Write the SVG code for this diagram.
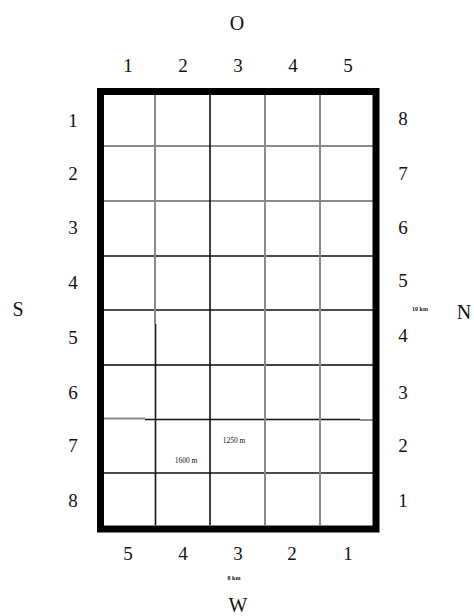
<svg xmlns="http://www.w3.org/2000/svg" width="474" height="616" viewBox="0 0 474 616">
<style>
text{font-family:"Liberation Serif","Times New Roman",serif;fill:#111;text-anchor:middle}
.n{font-size:19px}
.d{font-size:20px}
.s{font-size:6px;font-weight:bold}
.m{font-size:7.5px}
.g{stroke:#8a8a8a;stroke-width:2;fill:none}
.k{stroke:#111;stroke-width:1.6;fill:none}
.dk{stroke:#444;stroke-width:2;fill:none}
</style>
<rect width="474" height="616" fill="#fff"/>
<g id="grid">
<line class="g" x1="104" y1="146" x2="373" y2="146"/>
<line class="g" x1="104" y1="201" x2="373" y2="201"/>
<line class="k" x1="104" y1="256" x2="373" y2="256"/>
<line class="k" x1="104" y1="310" x2="373" y2="310"/>
<line class="dk" x1="104" y1="365" x2="373" y2="365"/>
<line class="g" x1="104" y1="418.5" x2="145" y2="418.5"/>
<line class="k" x1="145" y1="419.5" x2="360" y2="419.5"/>
<line class="g" x1="360" y1="420" x2="373" y2="420"/>
<line class="k" x1="104" y1="473" x2="373" y2="473"/>
<line class="g" x1="155" y1="95" x2="155" y2="324"/>
<line class="k" x1="155.5" y1="324" x2="155.5" y2="525"/>
<line class="k" x1="210" y1="95" x2="210" y2="525"/>
<line class="g" x1="265" y1="95" x2="265" y2="525"/>
<line class="g" x1="320" y1="95" x2="320" y2="525"/>
</g>
<rect id="frame" x="100.5" y="91.5" width="275.5" height="437.5" fill="none" stroke="#000" stroke-width="7"/>
<g id="top-labels">
<text class="d" x="237" y="30">O</text>
<text class="n" x="128" y="72">1</text>
<text class="n" x="183" y="72">2</text>
<text class="n" x="238" y="72">3</text>
<text class="n" x="293" y="72">4</text>
<text class="n" x="348" y="72">5</text>
</g>
<g id="left-labels">
<text class="d" x="18" y="316">S</text>
<text class="n" x="73" y="127">1</text>
<text class="n" x="73" y="180">2</text>
<text class="n" x="73" y="234">3</text>
<text class="n" x="73" y="289">4</text>
<text class="n" x="73" y="344">5</text>
<text class="n" x="73" y="399">6</text>
<text class="n" x="73" y="452">7</text>
<text class="n" x="73" y="507">8</text>
</g>
<g id="right-labels">
<text class="n" x="403" y="125">8</text>
<text class="n" x="403" y="180">7</text>
<text class="n" x="403" y="234">6</text>
<text class="n" x="403" y="287">5</text>
<text class="s" x="420" y="311">10 km</text>
<text class="d" x="464" y="319">N</text>
<text class="n" x="403" y="342">4</text>
<text class="n" x="403" y="399">3</text>
<text class="n" x="403" y="452">2</text>
<text class="n" x="403" y="507">1</text>
</g>
<g id="bottom-labels">
<text class="n" x="128" y="560">5</text>
<text class="n" x="183" y="560">4</text>
<text class="n" x="238" y="560">3</text>
<text class="n" x="292" y="560">2</text>
<text class="n" x="348" y="560">1</text>
<text class="s" x="234" y="580">8 km</text>
<text class="d" x="238" y="612">W</text>
</g>
<g id="distances">
<text class="m" x="234" y="443">1250 m</text>
<text class="m" x="186" y="463">1600 m</text>
</g>
</svg>
